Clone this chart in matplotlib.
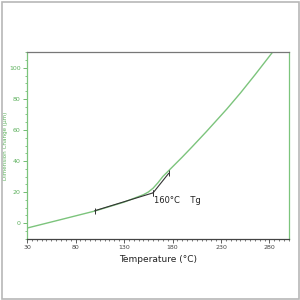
import matplotlib
matplotlib.use("Agg")
import matplotlib.pyplot as plt
from matplotlib.patches import Rectangle
from matplotlib.ticker import MultipleLocator

# Data
temp = [30, 60, 100, 130, 150, 155, 160, 165, 170, 178, 190, 200, 215, 236, 250, 265, 283]
dim_change = [-3.2, 1.5, 7.8, 13.5, 18.3, 20.0, 22.5, 26.0, 30.0, 35.0, 42.5, 49.0, 59.0,
              73.5, 83.8, 95.5, 110.0]
tangent1_t = [100, 160]
tangent1_v = [8.0, 19.5]
tangent2_t = [160, 176]
tangent2_v = [19.5, 32.0]
x_ticks = [30, 80, 130, 180, 230, 280]
y_ticks = [0, 20, 40, 60, 80, 100]

green = "#5cb05c"
fig = plt.figure(figsize=(3, 3), dpi=100)
fig.patches.append(Rectangle((0.005, 0.003), 0.99, 0.99, transform=fig.transFigure,
                             fill=False, edgecolor="#b8b8b8", linewidth=1.2))
ax = fig.add_axes([0.09, 0.203, 0.873, 0.624])

ax.plot(temp, dim_change, color="#7cc47c", linewidth=1.0)
ax.plot(tangent1_t, tangent1_v, color="#333333", linewidth=0.8,
        marker="|", markersize=4, markeredgewidth=0.7)
ax.plot(tangent2_t, tangent2_v, color="#333333", linewidth=0.8,
        marker="|", markersize=4, markeredgewidth=0.7)
ax.text(161, 17.5, "160°C    Tg", fontsize=6, color="#222222", va="top", ha="left")

ax.set_xlim(30, 300)
ax.set_ylim(-10.3, 110.3)
ax.set_xticks(x_ticks)
ax.set_yticks(y_ticks)
ax.xaxis.set_minor_locator(MultipleLocator(5))
ax.yaxis.set_minor_locator(MultipleLocator(5))

ax.tick_params(axis="x", which="major", labelsize=4.5, colors="#444444", length=3, width=0.6, pad=1.5)
ax.tick_params(axis="x", which="minor", colors="#444444", length=1.5, width=0.5)
ax.tick_params(axis="y", which="major", labelsize=4.5, colors=green, length=3, width=0.6, pad=1.5)
ax.tick_params(axis="y", which="minor", colors=green, length=1.5, width=0.5)

ax.spines["left"].set_color("#7cc47c")
ax.spines["right"].set_color("#7cc47c")
ax.spines["top"].set_color("#777777")
ax.spines["bottom"].set_color("#444444")
for s in ax.spines.values():
    s.set_linewidth(0.9)

ax.set_xlabel("Temperature (°C)", fontsize=6.5, color="#222222", labelpad=3)
ax.set_ylabel("Dimension Change (µm)", fontsize=4.1, color=green)
ax.yaxis.set_label_coords(-0.072, 0.5)

fig.savefig("out.png", dpi=100, facecolor="white")
